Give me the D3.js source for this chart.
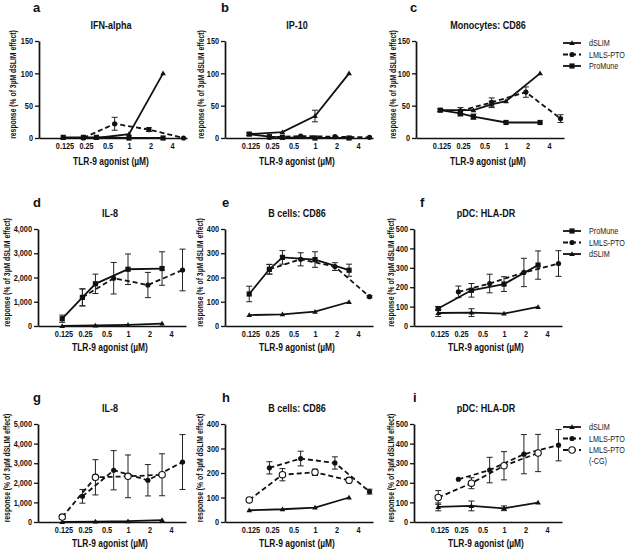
<!DOCTYPE html>
<html><head><meta charset="utf-8">
<script src="https://cdn.jsdelivr.net/npm/d3@7"></script>
<style>body{margin:0;background:#fff} svg{display:block}</style>
</head><body>
<svg id="chart" width="633" height="549"></svg>
<script>
// ---------- tick labels ----------
const xTickLabels = [0.125, 0.25, 0.5, 1, 2, 4];
const xTitle = "TLR-9 agonist (µM)";
const yTitle = "response (% of 3µM dSLIM effect)";

// ---------- data: [concentration µM, value, sem] ----------
// a  IFN-alpha
const aDSLIM   = [[0.12,0],[0.35,0],[1,6],[3,100]];
const aProMune = [[0.12,1],[0.23,1],[0.35,1],[1,0],[3,0]];
const aLMLS    = [[0.23,0],[0.63,22,10],[1.9,13,3],[5.8,0]];
// b  IP-10
const bDSLIM   = [[0.12,6],[0.35,9],[1,34,9],[3,100]];
const bProMune = [[0.12,6,2],[0.23,2],[0.35,1],[1,0],[3,0]];
const bLMLS    = [[0.23,1],[0.63,3],[1.9,2],[5.8,1]];
// c  Monocytes: CD86
const cDSLIM   = [[0.12,43],[0.35,43],[0.63,52,5],[1,57],[3,100]];
const cProMune = [[0.12,43,2],[0.23,38,4],[0.35,33,4],[1,24],[3,24]];
const cLMLS    = [[0.23,42,5],[0.63,55,7],[1.9,71,8],[5.8,30,6]];
// d  IL-8
const dDSLIM   = [[0.12,0],[0.35,20],[1,45],[3,100]];
const dProMune = [[0.12,300,150],[0.23,1180,350],[0.35,1740,400],[1,2340,630],[3,2370,690]];
const dLMLS    = [[0.23,1180,350],[0.63,1970,650],[1.9,1690,520],[5.8,2310,860]];
// e  B cells: CD86
const eDSLIM   = [[0.12,45],[0.35,48],[1,59],[3,99]];
const eProMune = [[0.12,132,32],[0.23,234,20],[0.35,283,28],[1,274,32],[3,230,25]];
const eLMLS    = [[0.23,234,20],[0.63,275,27],[1.9,245,16],[5.8,121,4]];
// f  pDC: HLA-DR
const fDSLIM   = [[0.12,67,18],[0.35,69,20],[1,64],[3,98]];
const fProMune = [[0.12,90,10],[0.35,184,35],[1,216,38],[3,314,73]];
const fLMLS    = [[0.23,176,30],[0.63,219,48],[1.9,276,73],[5.8,322,66]];
// g  IL-8
const gDSLIM   = [[0.12,0],[0.35,20],[1,40],[3,100]];
const gLMLS    = [[0.23,1310,350],[0.63,2640,1000],[1.9,2130,800],[5.8,3060,1400]];
const gLMLSCG  = [[0.12,250,100],[0.35,2280,900],[1,2330,1090],[3,2410,1070]];
// h  B cells: CD86
const hDSLIM   = [[0.12,48],[0.35,52],[1,59],[3,100]];
const hLMLS    = [[0.23,221,25],[0.63,259,30],[1.9,241,25],[5.8,124,10]];
const hLMLSCG  = [[0.12,90,5],[0.35,193,25],[1,203,13],[3,170,10]];
// i  pDC: HLA-DR
const iDSLIM   = [[0.12,77,20],[0.35,82,25],[1,70,12],[3,99]];
const iLMLS    = [[0.23,218],[0.63,265,65],[1.9,346,100],[5.8,392,80]];
const iLMLSCG  = [[0.12,125,35],[0.35,198,28],[1,287,72],[3,352,95]];

// ---------- series styles ----------
const STYLE = {
  dSLIM:   {dash:null,  marker:"tri"},
  ProMune: {dash:null,  marker:"sq"},
  LMLS:    {dash:"5,3", marker:"dot"},
  LMLSCG:  {dash:"5,3", marker:"open"}
};

const panels = [
  {L:"a", lx:33, ly:12, title:"IFN-alpha", yMax:150, step:50, x0:39, top:41, bot:138, ytx:13, xtb:27,
   series:[["dSLIM",aDSLIM],["LMLS",aLMLS],["ProMune",aProMune]]},
  {L:"b", lx:221, ly:12, title:"IP-10", yMax:150, step:50, x0:225, top:41, bot:138, ytx:201, xtb:27,
   series:[["dSLIM",bDSLIM],["LMLS",bLMLS],["ProMune",bProMune]]},
  {L:"c", lx:410, ly:12, title:"Monocytes: CD86", yMax:150, step:50, x0:416, top:41, bot:138, ytx:393, xtb:27,
   series:[["dSLIM",cDSLIM],["LMLS",cLMLS],["ProMune",cProMune]],
   legend:{y:43, items:[["dSLIM","dSLIM"],["LMLS","LMLS-PTO"],["ProMune","ProMune"]]}},
  {L:"d", lx:33, ly:207, title:"IL-8", yMax:4000, step:1000, x0:38, top:229, bot:326, ytx:7, xtb:25,
   series:[["dSLIM",dDSLIM],["LMLS",dLMLS],["ProMune",dProMune]]},
  {L:"e", lx:222, ly:207, title:"B cells: CD86", yMax:400, step:100, x0:225, top:229, bot:326, ytx:200, xtb:25,
   series:[["dSLIM",eDSLIM],["LMLS",eLMLS],["ProMune",eProMune]]},
  {L:"f", lx:420, ly:207, title:"pDC: HLA-DR", yMax:500, step:100, x0:414, top:229, bot:326, ytx:391, xtb:25,
   series:[["dSLIM",fDSLIM],["LMLS",fLMLS],["ProMune",fProMune]],
   legend:{y:231, items:[["ProMune","ProMune"],["LMLS","LMLS-PTO"],["dSLIM","dSLIM"]]}},
  {L:"g", lx:33, ly:402, title:"IL-8", yMax:5000, step:1000, x0:38, top:424, bot:522, ytx:7, xtb:25,
   series:[["dSLIM",gDSLIM],["LMLS",gLMLS],["LMLSCG",gLMLSCG]]},
  {L:"h", lx:222, ly:402, title:"B cells: CD86", yMax:400, step:100, x0:225, top:424, bot:522, ytx:200, xtb:25,
   series:[["dSLIM",hDSLIM],["LMLS",hLMLS],["LMLSCG",hLMLSCG]]},
  {L:"i", lx:413, ly:402, title:"pDC: HLA-DR", yMax:500, step:100, x0:414, top:424, bot:522, ytx:391, xtb:25,
   series:[["dSLIM",iDSLIM],["LMLS",iLMLS],["LMLSCG",iLMLSCG]],
   legend:{y:427, items:[["dSLIM","dSLIM"],["LMLS","LMLS-PTO"],["LMLSCG","LMLS-PTO","(-CG)"]]}}
];

const FONT = "'Liberation Sans', Arial, Helvetica, sans-serif";
const svg = d3.select("#chart");
svg.append("rect").attr("width",633).attr("height",549).attr("fill","#fff");

function squeeze(sel, f){
  sel.each(function(){
    const l = this.getComputedTextLength();
    if (l > 0){ this.setAttribute("textLength", l*f); this.setAttribute("lengthAdjust","spacingAndGlyphs"); }
  });
}

function drawMarker(g, type, cx, cy){
  if (type === "tri"){
    g.append("path").attr("d", `M${cx},${cy-2.8}L${cx+2.8},${cy+2}L${cx-2.8},${cy+2}Z`).attr("fill","#111");
  } else if (type === "sq"){
    g.append("rect").attr("x",cx-2.6).attr("y",cy-2.6).attr("width",5.2).attr("height",5.2).attr("fill","#111");
  } else if (type === "dot"){
    g.append("circle").attr("cx",cx).attr("cy",cy).attr("r",2.6).attr("fill","#111");
  } else {
    g.append("circle").attr("cx",cx).attr("cy",cy).attr("r",3.2).attr("fill","#fff").attr("stroke","#111").attr("stroke-width",1.1);
  }
}

const W = 148, ONE = 90, PX2 = 21.5;
panels.forEach(p => {
  const g = svg.append("g");
  const x = d3.scaleLog().base(2)
    .domain([Math.pow(2,-ONE/PX2), Math.pow(2,(W-ONE)/PX2)]).range([p.x0, p.x0+W]);
  const y = d3.scaleLinear().domain([0, p.yMax]).range([p.bot, p.top]);

  // panel letter
  g.append("text").attr("x", p.lx).attr("y", p.ly)
    .attr("font-family",FONT).attr("font-weight","bold").attr("font-size",13).attr("fill","#111").text(p.L);
  // title
  const t = g.append("text").attr("x", p.x0+72).attr("y", p.top-12).attr("text-anchor","middle")
    .attr("font-family",FONT).attr("font-weight","bold").attr("font-size",10).attr("fill","#111").text(p.title);
  squeeze(t, 0.9);

  // y axis
  const yAxis = d3.axisLeft(y).tickValues(d3.range(0, p.yMax+1, p.step)).tickSize(4).tickSizeOuter(0).tickPadding(2)
    .tickFormat(d3.format(","));
  const ya = g.append("g").attr("transform",`translate(${p.x0},0)`).call(yAxis);
  ya.select(".domain").attr("stroke","#111").attr("stroke-width",1.7);
  ya.selectAll(".tick line").attr("stroke","#111").attr("stroke-width",1.3);
  ya.selectAll(".tick text").attr("font-family",FONT).attr("font-weight","bold").attr("font-size",8.5).attr("fill","#111");
  squeeze(ya.selectAll(".tick text"), 0.86);

  // x axis
  const xAxis = d3.axisBottom(x).tickValues(xTickLabels).tickSize(0).tickSizeOuter(0).tickPadding(5)
    .tickFormat(d => String(d));
  const xa = g.append("g").attr("transform",`translate(0,${p.bot})`).call(xAxis);
  xa.select(".domain").attr("stroke","#111").attr("stroke-width",1.7);
  xa.selectAll(".tick text").attr("font-family",FONT).attr("font-weight","bold").attr("font-size",8.5).attr("fill","#111");
  squeeze(xa.selectAll(".tick text"), 0.86);

  // axis titles
  const xt = g.append("text").attr("x", p.x0+72).attr("y", p.bot+p.xtb).attr("text-anchor","middle")
    .attr("font-family",FONT).attr("font-weight","bold").attr("font-size",10.5).attr("fill","#111").text(xTitle);
  squeeze(xt, 0.8);
  const ycy = (p.top+p.bot)/2 - 5;
  const yt = g.append("text").attr("transform",`translate(${p.ytx+3},${ycy}) rotate(-90)`).attr("text-anchor","middle")
    .attr("font-family",FONT).attr("font-weight","bold").attr("font-size",8.3).attr("fill","#111").text(yTitle);
  squeeze(yt, 0.82);

  // series
  const line = d3.line().x(d => x(d[0])).y(d => y(d[1]));
  p.series.forEach(([k, data]) => {
    data.filter(d => d[2]).forEach(d => {
      const cx = x(d[0]), y1 = y(d[1]-d[2]), y2 = y(d[1]+d[2]);
      g.append("path").attr("d",`M${cx},${y1}V${y2}M${cx-3},${y1}H${cx+3}M${cx-3},${y2}H${cx+3}`)
        .attr("stroke","#222").attr("stroke-width",1).attr("fill","none");
    });
  });
  p.series.forEach(([k, data]) => {
    g.append("path").datum(data).attr("d", line).attr("fill","none").attr("stroke","#111")
      .attr("stroke-width",1.8).attr("stroke-dasharray", STYLE[k].dash);
  });
  p.series.forEach(([k, data]) => {
    data.forEach(d => drawMarker(g, STYLE[k].marker, x(d[0]), y(d[1])));
  });

  // legend
  if (p.legend){
    p.legend.items.forEach((it, i) => {
      const ly = p.legend.y + i*11.5;
      g.append("line").attr("x1",563).attr("x2",581).attr("y1",ly).attr("y2",ly).attr("stroke","#111")
        .attr("stroke-width",1.8).attr("stroke-dasharray", STYLE[it[0]].dash);
      drawMarker(g, STYLE[it[0]].marker, 572, ly);
      const tx = g.append("text").attr("x",589).attr("y",ly+3.3).attr("font-family",FONT).attr("font-size",9).attr("fill","#222").text(it[1]);
      squeeze(tx, 0.8);
      if (it[2]){
        const t2 = g.append("text").attr("x",589).attr("y",ly+14).attr("font-family",FONT).attr("font-size",9).attr("fill","#222").text(it[2]);
        squeeze(t2, 0.8);
      }
    });
  }
});
</script>
</body></html>
